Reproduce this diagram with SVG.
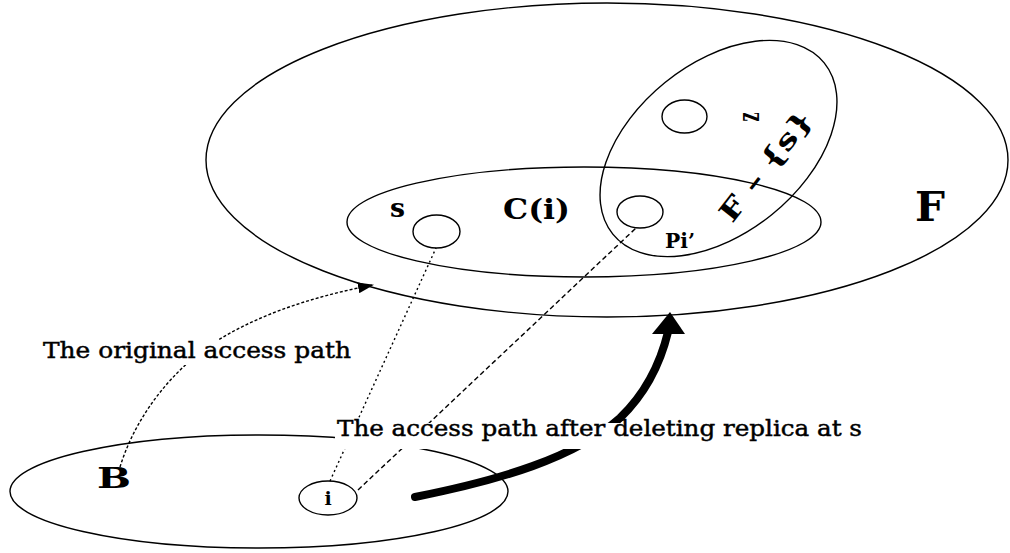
<svg xmlns="http://www.w3.org/2000/svg" width="1010" height="553" viewBox="0 0 1010 553">
<style>
.ln{fill:none;stroke:#000;stroke-width:1.4}
.lbl{font-family:"DejaVu Serif","Liberation Serif",serif;fill:#000}
.b{font-weight:bold}
.cap{stroke:#000;stroke-width:0.45}
.bg{fill:#fff;stroke:none}
</style>
<defs>
<marker id="ah" viewBox="0 0 16 11" refX="15" refY="5.5" markerWidth="16" markerHeight="11" markerUnits="userSpaceOnUse" orient="auto">
<path d="M0,0 L16,5.5 L0,11 Z" fill="#000"/>
</marker>
</defs>
<g id="F">
<ellipse class="ln" cx="607" cy="160" rx="401" ry="157" stroke-width="1.6"/>
<text class="lbl b" x="915" y="221" font-size="41" textLength="30" lengthAdjust="spacingAndGlyphs">F</text>
</g>
<g id="Ci">
<ellipse class="ln" cx="584" cy="222" rx="237" ry="55"/>
<text class="lbl b" x="503" y="219" font-size="28" textLength="67" lengthAdjust="spacingAndGlyphs">C(i)</text>
</g>
<g id="Fs">
<ellipse class="ln" cx="0" cy="0" rx="136" ry="85" transform="translate(718.5,148.5) rotate(-39)"/>
<text class="lbl b" x="0" y="0" font-size="27" text-anchor="middle" textLength="132" lengthAdjust="spacingAndGlyphs" transform="translate(773,172) rotate(-52)">F – {s}</text>
</g>
<g id="z">
<ellipse class="ln" cx="684.5" cy="116.5" rx="22.5" ry="16.5"/>
<text class="lbl b" x="0" y="0" font-size="20" text-anchor="middle" transform="translate(759,117) rotate(-90) scale(0.8,1.45)">z</text>
</g>
<g id="Pi">
<ellipse class="ln" cx="640" cy="212" rx="23" ry="16"/>
<text class="lbl b" x="665" y="248" font-size="20" textLength="30" lengthAdjust="spacingAndGlyphs">Pi’</text>
</g>
<g id="s">
<ellipse class="ln" cx="436.5" cy="231.5" rx="23.5" ry="16.5"/>
<text class="lbl b" x="390" y="217" font-size="26" textLength="15" lengthAdjust="spacingAndGlyphs">s</text>
</g>
<g id="B">
<ellipse class="ln" cx="259" cy="491.5" rx="249" ry="56.5"/>
<text class="lbl b" x="97" y="488" font-size="27" textLength="34" lengthAdjust="spacingAndGlyphs">B</text>
</g>
<g id="i">
<ellipse class="ln" cx="328" cy="498" rx="29" ry="17"/>
<text class="lbl b" x="328" y="505" font-size="19" text-anchor="middle">i</text>
</g>
<g id="connectors">
<line class="ln" x1="330" y1="481" x2="436" y2="248" stroke-width="1.1" stroke-dasharray="2,3"/>
<line class="ln" x1="358" y1="490" x2="636" y2="228" stroke-width="1.1" stroke-dasharray="5,3"/>
<path class="ln" d="M120,467 C133,425 160,385 198,354 C245,318 310,297 373,285" stroke-width="1.1" stroke-dasharray="3,2" marker-end="url(#ah)"/>
<path d="M415,497 C500,480 575,458 620,418 C645,394 660,365 668,332" fill="none" stroke="#000" stroke-width="8" stroke-linecap="round"/>
<polygon points="670,312 652,334 685,334" fill="#000"/>
</g>
<g id="label-original">
<rect class="bg" x="40" y="340" width="315" height="25"/>
<text class="lbl cap" x="43" y="358" font-size="22" textLength="308" lengthAdjust="spacingAndGlyphs">The original access path</text>
</g>
<g id="label-after">
<rect class="bg" x="335" y="423" width="530" height="26"/>
<text class="lbl cap" x="337" y="436" font-size="22" textLength="525" lengthAdjust="spacingAndGlyphs">The access path after deleting replica at s</text>
</g>
</svg>
